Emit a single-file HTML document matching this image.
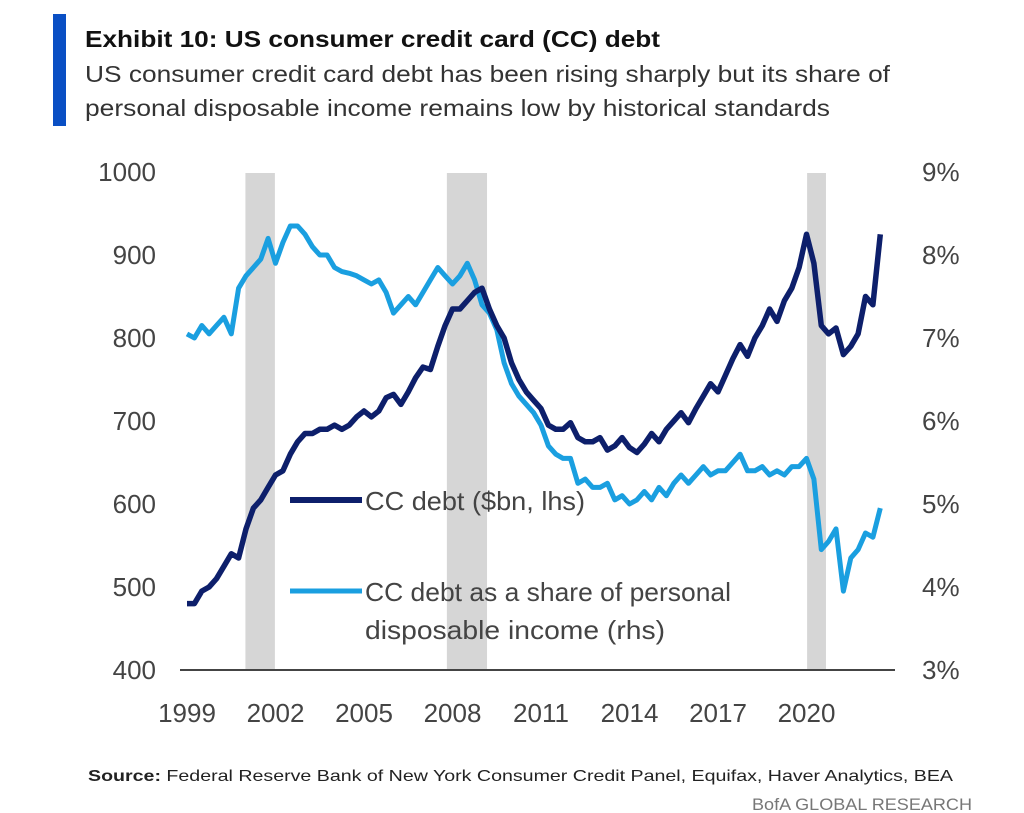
<!DOCTYPE html>
<html><head><meta charset="utf-8"><style>
html,body{margin:0;padding:0;background:#fff;}
svg{display:block;font-family:"Liberation Sans",sans-serif;}
</style></head><body>
<svg id="chart" width="1024" height="813" viewBox="0 0 1024 813">
<rect x="53" y="14" width="13" height="112" fill="#0a4fc4"/>
<text x="85" y="47" font-size="23" font-weight="bold" fill="#111" textLength="575" lengthAdjust="spacingAndGlyphs">Exhibit 10: US consumer credit card (CC) debt</text>
<text x="85" y="82" font-size="23" fill="#333" textLength="805" lengthAdjust="spacingAndGlyphs">US consumer credit card debt has been rising sharply but its share of</text>
<text x="85" y="116" font-size="23" fill="#333" textLength="745" lengthAdjust="spacingAndGlyphs">personal disposable income remains low by historical standards</text>
<g id="recessions"></g>
<g id="axes"></g>
<g id="series"></g>
<g>
<line x1="290" y1="500" x2="362" y2="500" stroke="#0d1f6b" stroke-width="6"/>
<text x="365" y="510" font-size="26" fill="#444" textLength="220" lengthAdjust="spacingAndGlyphs">CC debt ($bn, lhs)</text>
<line x1="290" y1="591" x2="362" y2="591" stroke="#1a9fe0" stroke-width="5"/>
<text x="365" y="601" font-size="26" fill="#444" textLength="366" lengthAdjust="spacingAndGlyphs">CC debt as a share of personal</text>
<text x="365" y="639" font-size="26" fill="#444" textLength="300" lengthAdjust="spacingAndGlyphs">disposable income (rhs)</text>
</g>
<text x="88" y="781" font-size="16" fill="#222" textLength="865" lengthAdjust="spacingAndGlyphs"><tspan font-weight="bold">Source:</tspan> Federal Reserve Bank of New York Consumer Credit Panel, Equifax, Haver Analytics, BEA</text>
<text x="752" y="810" font-size="17" fill="#777" textLength="220" lengthAdjust="spacingAndGlyphs">BofA GLOBAL RESEARCH</text>
</svg>
<script>
const startYear = 1999;
const debtValues = [480,480,495,500,510,525,540,535,570,595,605,620,635,640,660,675,685,685,690,690,695,690,695,705,712,705,712,728,732,720,735,752,765,762,790,815,835,835,845,855,860,835,815,800,770,750,735,725,715,695,690,690,698,680,675,675,680,665,670,680,668,662,672,685,675,690,700,710,698,715,730,745,735,755,775,792,778,800,815,835,820,845,860,885,925,890,815,805,812,780,790,805,850,840,925];
const shareValues = [7.05,7.0,7.15,7.05,7.15,7.25,7.05,7.6,7.75,7.85,7.95,8.2,7.9,8.15,8.35,8.35,8.25,8.1,8.0,8.0,7.85,7.8,7.78,7.75,7.7,7.65,7.7,7.55,7.3,7.4,7.5,7.4,7.55,7.7,7.85,7.75,7.65,7.75,7.9,7.7,7.4,7.3,7.1,6.7,6.45,6.3,6.2,6.1,5.95,5.7,5.6,5.55,5.55,5.25,5.3,5.2,5.2,5.25,5.05,5.1,5.0,5.05,5.15,5.05,5.2,5.1,5.25,5.35,5.25,5.35,5.45,5.35,5.4,5.4,5.5,5.6,5.4,5.4,5.45,5.35,5.4,5.35,5.45,5.45,5.55,5.3,4.45,4.55,4.7,3.95,4.35,4.45,4.65,4.6,4.95];
const recessionStarts = [2000.98, 2007.81, 2020.02];
const recessionEnds = [2001.98, 2009.17, 2020.66];
const leftTicks = [400,500,600,700,800,900,1000];
const rightTicks = [3,4,5,6,7,8,9];
const xTickYears = [1999,2002,2005,2008,2011,2014,2017,2020];

const NS = "http://www.w3.org/2000/svg";
const x = yr => 187 + (yr - 1999) * 29.5;
const yL = v => 670 - (v - 400) * 0.83;
const yR = v => 670 - (v - 3) * 83;
function mk(tag, attrs, parent){const e=document.createElementNS(NS,tag);for(const k in attrs)e.setAttribute(k,attrs[k]);parent.appendChild(e);return e;}
const rec = document.getElementById('recessions');
recessionStarts.forEach((s,i)=>{
  const r = mk('rect',{x:x(s),y:173,width:x(recessionEnds[i])-x(s),height:497,fill:'#d6d6d6'},rec);
  
  
});
const ax = document.getElementById('axes');
const base = mk('line',{x1:180,y1:670,x2:895,y2:670,stroke:'#444','stroke-width':2},ax);


leftTicks.forEach(v=>{
  const t = mk('text',{x:156,y:yL(v)+9,'font-size':26,fill:'#444','text-anchor':'end'},ax);
  t.textContent = v;
  
  
});
rightTicks.forEach(v=>{
  const t = mk('text',{x:922,y:yR(v)+9,'font-size':26,fill:'#444'},ax);
  t.textContent = v + '%';
  
  
});
xTickYears.forEach(v=>{
  const t = mk('text',{x:x(v),y:722,'font-size':26,fill:'#444','text-anchor':'middle'},ax);
  t.textContent = v;
  
  
});
const sg = document.getElementById('series');
const sharePts = shareValues.map((v,i)=>x(startYear+i*0.25).toFixed(1)+','+yR(v).toFixed(1)).join(' ');
const sl = mk('polyline',{points:sharePts,fill:'none',stroke:'#1a9fe0','stroke-width':5,'stroke-linejoin':'round'},sg);


const debtPts = debtValues.map((v,i)=>x(startYear+i*0.25).toFixed(1)+','+yL(v).toFixed(1)).join(' ');
const dl = mk('polyline',{points:debtPts,fill:'none',stroke:'#0d1f6b','stroke-width':5.5,'stroke-linejoin':'round'},sg);


</script>
</body></html>
